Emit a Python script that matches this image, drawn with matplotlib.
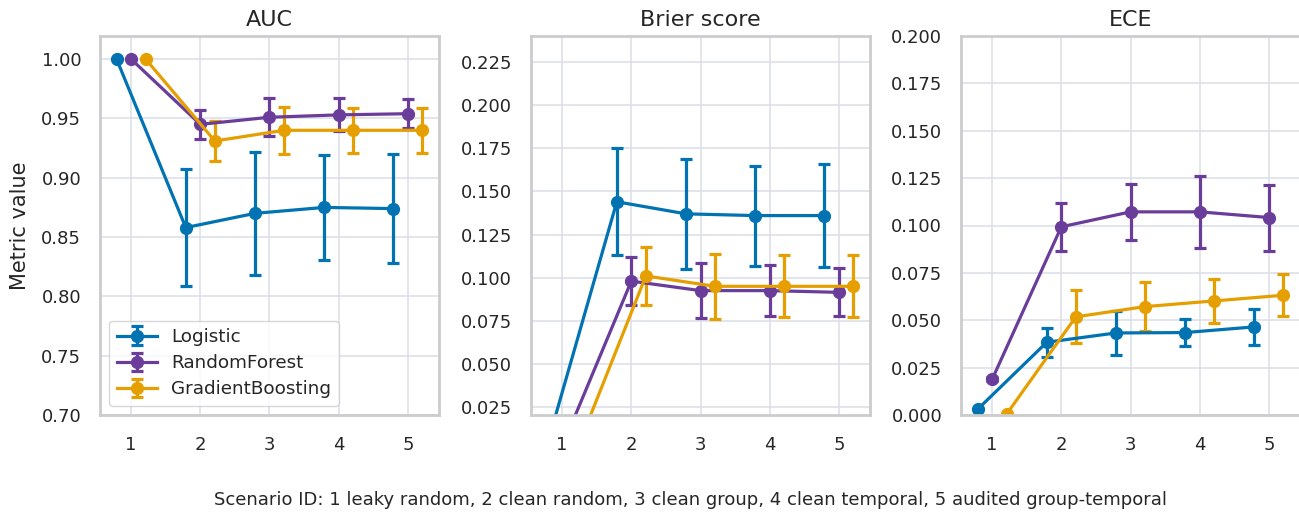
import matplotlib
matplotlib.use("Agg")
import matplotlib.pyplot as plt
import numpy as np

scenarios = [1, 2, 3, 4, 5]
models = ["Logistic", "RandomForest", "GradientBoosting"]
colors = ["#0173b2", "#6a3d9a", "#e69f00"]

auc_mean = {
    "Logistic": [1.000, 0.858, 0.870, 0.875, 0.874],
    "RandomForest": [1.000, 0.945, 0.951, 0.953, 0.954],
    "GradientBoosting": [1.000, 0.931, 0.940, 0.940, 0.940],
}
auc_err = {
    "Logistic": [0.0, 0.049, 0.052, 0.044, 0.046],
    "RandomForest": [0.0, 0.012, 0.016, 0.014, 0.012],
    "GradientBoosting": [0.0, 0.017, 0.020, 0.019, 0.019],
}
brier_mean = {
    "Logistic": [0.004, 0.144, 0.137, 0.136, 0.136],
    "RandomForest": [0.002, 0.098, 0.0925, 0.0925, 0.0915],
    "GradientBoosting": [0.000, 0.101, 0.095, 0.095, 0.095],
}
brier_err = {
    "Logistic": [0.0, 0.031, 0.032, 0.029, 0.030],
    "RandomForest": [0.0, 0.014, 0.016, 0.015, 0.014],
    "GradientBoosting": [0.0, 0.017, 0.019, 0.018, 0.018],
}
ece_mean = {
    "Logistic": [0.003, 0.0384, 0.0433, 0.0435, 0.0465],
    "RandomForest": [0.0188, 0.0993, 0.1072, 0.1072, 0.1042],
    "GradientBoosting": [0.0005, 0.0518, 0.0572, 0.0602, 0.0632],
}
ece_err = {
    "Logistic": [0.0, 0.0077, 0.0116, 0.0069, 0.0097],
    "RandomForest": [0.001, 0.0127, 0.0148, 0.019, 0.0174],
    "GradientBoosting": [0.0, 0.014, 0.0128, 0.0118, 0.011],
}

panels = [
    ("AUC", auc_mean, auc_err, (0.70, 1.0195), np.arange(0.70, 1.001, 0.05), "{:.2f}"),
    ("Brier score", brier_mean, brier_err, (0.0204, 0.2401), np.arange(0.025, 0.226, 0.025), "{:.3f}"),
    ("ECE", ece_mean, ece_err, (0.0, 0.2), np.arange(0.0, 0.201, 0.025), "{:.3f}"),
]
offsets = [-0.21, 0.0, 0.21]

plt.rcParams["font.family"] = ["DejaVu Sans"]
fig = plt.figure(figsize=(12.99, 5.14), dpi=100)
W, H = 1299, 514
lefts = [100, 531, 961]
width = 339
top, bottom = 36, 415

grid_c = "#dde0e9"
spine_c = "#cccccc"
text_c = "#262626"

for i, (title, means, errs, ylim, yticks, fmt) in enumerate(panels):
    ax = fig.add_axes([lefts[i] / W, 1 - bottom / H, width / W, (bottom - top) / H])
    ax.set_facecolor("white")
    ax.grid(True, color=grid_c, linewidth=1.2)
    ax.set_axisbelow(True)
    for s in ax.spines.values():
        s.set_color(spine_c)
        s.set_linewidth(2.0)
    for m, off, c in zip(models, offsets, colors):
        x = np.array(scenarios) + off
        ax.errorbar(x, means[m], yerr=errs[m], color=c, marker="o", markersize=8.5,
                    linewidth=2.3, elinewidth=2.3, capsize=4.3, capthick=2.3, label=m)
    ax.set_xlim(0.55, 5.45)
    ax.set_ylim(*ylim)
    ax.set_xticks(scenarios)
    ax.set_yticks(yticks)
    ax.set_yticklabels([fmt.format(v) for v in yticks])
    ax.tick_params(axis="y", labelsize=13, colors=text_c, length=0, pad=13.5)
    ax.tick_params(axis="x", labelsize=13, colors=text_c, length=0, pad=15)
    ax.set_title(title, fontsize=16, color=text_c, pad=7)
    if i == 0:
        ax.set_ylabel("Metric value", fontsize=15, color=text_c, labelpad=8)
        leg = ax.legend(loc="lower left", fontsize=13.2, frameon=True, borderpad=0.4,
                        handlelength=2.2, labelspacing=0.45)
        leg.get_frame().set_edgecolor(spine_c)
        leg.get_frame().set_linewidth(1.0)
        for t in leg.get_texts():
            t.set_color(text_c)

fig.text(691 / W, 1 - 500 / H, "Scenario ID: 1 leaky random, 2 clean random, 3 clean group, 4 clean temporal, 5 audited group-temporal",
         ha="center", va="center", fontsize=13, color=text_c)

fig.savefig("out.png", dpi=100, facecolor="white")
